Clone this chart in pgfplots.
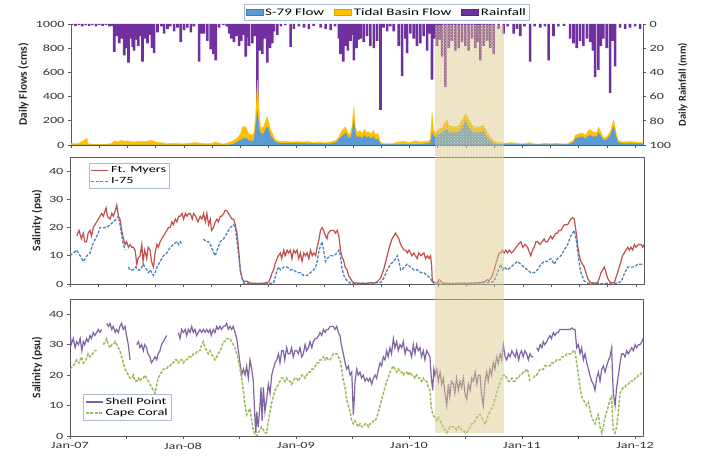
\documentclass[border=0pt]{standalone}
\usepackage{fontspec}
\setmainfont{Carlito}[FakeStretch=1.5]
\newfontfamily\labfont{Carlito}
\usepackage{pgfplots}
\pgfplotsset{compat=1.18}
\usetikzlibrary{patterns}
\definecolor{sflow}{HTML}{5B9BD5}
\definecolor{tflow}{HTML}{FFC000}
\definecolor{rain}{HTML}{7030A0}
\definecolor{ftm}{HTML}{C0504D}
\definecolor{ise}{HTML}{4F81BD}
\definecolor{shp}{HTML}{8064A2}
\definecolor{cco}{HTML}{9BBB59}
\definecolor{legbord}{RGB}{170,185,210}
\definecolor{bandtan}{RGB}{214,192,120}
\begin{document}
\begin{tikzpicture}
\useasboundingbox (0,0) rectangle (702pt,462pt);
\pgfplotsset{
  base/.style={scale only axis, xmin=0, xmax=5.07,
    font=\fontsize{9.5}{11}\selectfont,
    /pgf/number format/assume math mode=true,
    /pgf/number format/1000 sep={},
    tick align=outside, major tick length=3pt,
    axis line style={black!65, line width=0.7pt},
    tick style={black!65, line width=0.6pt},
    ticklabel style={text=black!80},
    unbounded coords=jump},
  ylab/.style={ylabel style={font=\labfont\bfseries\fontsize{11.5}{13}\selectfont, text=black!85}},
}
% ---------- Top panel: rainfall (right axis, reversed) ----------
\begin{axis}[base, at={(71pt,317pt)}, anchor=south west, width=572pt, height=121pt,
  ymin=0, ymax=100, y dir=reverse, axis y line*=right, axis x line=none,
  ytick={0,20,...,100},
  ylabel={Daily Rainfall (mm)},
  ylabel style={font=\labfont\bfseries\fontsize{10.5}{12}\selectfont, text=black!85},
  ybar, bar width=2.6pt]
\addplot[fill=rain, draw=none] coordinates {
(0.01,1)(0.04,1.5)(0.07,1)(0.10,2)(0.13,1)(0.16,1.5)(0.19,1)(0.22,2)(0.25,1)(0.28,1.5)(0.31,1)(0.34,2)(0.36,1.5)
(0.383,23)(0.407,10)(0.428,16)(0.448,12)(0.472,26)(0.493,20)(0.510,32)(0.531,12)(0.546,19)(0.560,22)(0.575,13)
(0.596,18)(0.614,10)(0.634,31)(0.655,12)(0.678,16)(0.699,9)(0.717,20)(0.737,24)(0.767,7)(0.80,2)(0.826,8)(0.855,4)
(0.88,2)(0.914,6)(0.944,3)(0.973,15)(1.003,5)(1.032,3)(1.062,7)(1.09,2)(1.135,31)(1.159,8)(1.180,8)(1.209,14)
(1.239,21)(1.262,25)(1.283,30)(1.313,3)(1.35,1)(1.38,2)(1.401,8)(1.422,12)(1.445,15)(1.469,10)(1.490,18)(1.510,14)
(1.530,9)(1.549,27)(1.565,11)(1.578,18)(1.608,16)(1.628,10)(1.652,71)(1.676,22)(1.696,25)(1.720,12)(1.740,32)
(1.764,20)(1.785,16)(1.80,6)(1.829,9)(1.86,2)(1.90,1)(1.947,19)(1.976,4)(2.02,2)(2.065,3)(2.109,4)(2.15,1.5)(2.212,3)
(2.257,4)(2.301,5)(2.34,2)(2.375,12)(2.389,25)(2.413,31)(2.434,18)(2.454,22)(2.478,14)(2.494,9)(2.507,30)(2.531,20)
(2.552,13)(2.566,12)(2.595,15)(2.625,10)(2.654,18)(2.684,20)(2.713,14)(2.743,71)(2.77,3)(2.802,6)(2.83,2)(2.861,6)
(2.905,18)(2.935,43)(2.964,12)(2.979,24)(3.008,8)(3.038,12)(3.067,18)(3.097,16)(3.126,10)(3.156,22)(3.178,8)(3.200,46)
(3.224,12)(3.244,18)(3.268,13)(3.289,27)(3.318,52)(3.348,20)(3.377,14)(3.407,22)(3.436,20)(3.466,15)(3.495,18)
(3.525,22)(3.554,12)(3.584,20)(3.604,15)(3.628,30)(3.657,18)(3.687,14)(3.716,20)(3.746,25)(3.790,4)(3.834,8)
(3.87,2)(3.923,8)(3.952,4)(3.982,10)(4.02,2)(4.070,31)(4.11,2)(4.159,3)(4.20,2)(4.233,30)(4.277,10)(4.32,2)(4.37,1.5)
(4.424,12)(4.454,16)(4.483,20)(4.513,14)(4.542,18)(4.572,12)(4.601,15)(4.625,22)(4.646,44)(4.675,38)(4.696,18)
(4.719,12)(4.749,20)(4.778,57)(4.800,14)(4.823,35)(4.867,3)(4.911,4)(4.955,3)(5.00,2)(5.044,4)
};
\end{axis}
% ---------- Top panel: flows (left axis) ----------
\begin{axis}[base, ylab, at={(71pt,317pt)}, anchor=south west, width=572pt, height=121pt,
  ymin=0, ymax=1000, axis y line*=left, axis x line*=bottom,
  xtick={0,0.25,...,5}, xticklabels={}, ytick={0,200,...,1000},
  ylabel={Daily Flows (cms)},
  legend columns=3,
  legend style={at={(0.552,1.03)}, anchor=south, draw=legbord, line width=0.6pt,
    font=\fontsize{10}{11}\selectfont, inner sep=1.5pt,
    /tikz/every even column/.append style={column sep=8pt}}]
\addlegendimage{area legend, fill=sflow, draw=sflow!80!black}
\addlegendentry{S-79 Flow}
\addlegendimage{area legend, fill=tflow, draw=tflow!85!black}
\addlegendentry{Tidal Basin Flow}
\addlegendimage{area legend, fill=rain, draw=rain!80!black}
\addlegendentry{Rainfall}
\addplot[fill=tflow, draw=tflow, line width=0.3pt, forget plot] coordinates {
(0.00,15)(0.02,10)(0.04,12)(0.06,10)(0.09,25)(0.142,55)(0.15,10)(0.18,8)(0.2,5)(0.25,5)(0.3,8)(0.35,10)(0.39,35)
(0.41,25)(0.45,40)(0.47,30)(0.50,35)(0.55,25)(0.60,30)(0.65,30)(0.70,35)(0.72,40)(0.75,25)(0.80,20)(0.85,10)(0.90,15)
(1.0,10)(1.05,15)(1.1,20)(1.15,15)(1.2,10)(1.25,15)(1.28,25)(1.30,20)(1.35,8)(1.40,20)(1.445,40)(1.48,60)(1.50,90)
(1.52,150)(1.55,150)(1.57,100)(1.60,80)(1.622,100)(1.637,250)(1.652,537)(1.66,400)(1.67,250)(1.681,150)(1.70,140)
(1.711,160)(1.725,200)(1.740,235)(1.755,180)(1.770,120)(1.785,100)(1.80,60)(1.82,40)(1.85,30)(1.90,30)(1.95,25)
(2.0,30)(2.05,25)(2.10,30)(2.15,20)(2.20,25)(2.25,20)(2.30,25)(2.35,40)(2.37,60)(2.40,120)(2.434,150)(2.45,110)
(2.47,80)(2.49,150)(2.507,317)(2.52,150)(2.54,100)(2.56,120)(2.58,90)(2.60,130)(2.62,100)(2.64,110)(2.66,90)(2.68,120)
(2.70,80)(2.72,100)(2.74,30)(2.76,15)(2.80,10)(2.85,12)(2.90,25)(2.95,30)(3.0,20)(3.05,35)(3.10,25)(3.15,30)(3.185,40)
(3.20,275)(3.215,120)(3.23,100)(3.26,130)(3.29,140)(3.31,180)(3.333,206)(3.35,160)(3.38,150)(3.41,150)(3.44,160)
(3.46,200)(3.50,260)(3.52,220)(3.55,170)(3.58,140)(3.60,150)(3.63,150)(3.657,165)(3.68,120)(3.70,90)(3.72,60)(3.75,30)
(3.8,20)(3.85,15)(3.9,20)(3.95,15)(4.0,10)(4.07,20)(4.1,10)(4.15,8)(4.2,15)(4.25,10)(4.30,15)(4.35,10)(4.40,10)
(4.454,40)(4.47,80)(4.50,90)(4.53,100)(4.56,80)(4.58,110)(4.60,130)(4.62,110)(4.66,100)(4.675,150)(4.69,120)(4.72,60)
(4.75,70)(4.78,110)(4.80,170)(4.808,206)(4.82,160)(4.837,80)(4.85,40)(4.87,30)(4.9,25)(4.95,30)(5.0,25)(5.07,20)
} \closedcycle;
\addplot[fill=sflow, draw=sflow, line width=0.3pt, forget plot] coordinates {
(0.00,0)(1.40,0)(1.445,10)(1.48,30)(1.52,50)(1.55,60)(1.57,40)(1.60,30)(1.622,40)(1.637,150)(1.652,290)(1.66,200)
(1.67,120)(1.681,100)(1.70,90)(1.711,100)(1.725,130)(1.740,150)(1.755,120)(1.770,70)(1.785,60)(1.80,35)(1.82,20)
(1.85,15)(1.9,15)(2.0,15)(2.1,12)(2.2,10)(2.3,10)(2.35,20)(2.40,70)(2.434,100)(2.45,70)(2.47,50)(2.49,90)(2.507,200)
(2.52,90)(2.54,60)(2.56,70)(2.58,55)(2.60,80)(2.62,60)(2.64,70)(2.66,50)(2.68,70)(2.70,40)(2.72,50)(2.74,10)(2.76,5)
(2.8,3)(2.9,5)(3.0,5)(3.1,5)(3.185,15)(3.20,100)(3.215,70)(3.23,70)(3.26,90)(3.29,100)(3.31,120)(3.333,130)(3.35,100)
(3.38,100)(3.41,100)(3.44,110)(3.46,130)(3.50,200)(3.52,150)(3.55,110)(3.58,100)(3.60,100)(3.63,100)(3.657,110)
(3.68,70)(3.70,50)(3.72,30)(3.75,10)(3.8,5)(4.4,3)(4.454,20)(4.47,50)(4.50,60)(4.53,70)(4.56,50)(4.58,70)(4.60,80)
(4.62,70)(4.66,70)(4.675,100)(4.69,80)(4.72,40)(4.75,45)(4.78,80)(4.80,130)(4.808,150)(4.82,110)(4.837,50)(4.85,20)
(4.87,15)(4.9,12)(5.07,10)
} \closedcycle;
\coordinate (bandTR) at (axis cs:3.84,995);
\end{axis}
% ---------- Middle panel ----------
\begin{axis}[base, ylab, at={(70pt,178pt)}, anchor=south west, width=574pt, height=127pt,
  ymin=0, ymax=45, ytick={0,10,...,40}, xtick={0,0.25,...,5}, xticklabels={},
  xtick pos=bottom, ytick pos=left,
  ylabel={Salinity (psu)},
  legend cell align=left,
  legend style={at={(0.033,0.953)}, anchor=north west, draw=legbord, line width=0.6pt,
    font=\fontsize{9.5}{11}\selectfont, inner sep=1.5pt, row sep=-1pt}]
\addplot[ftm, line width=1.2pt] coordinates {
(0.06,17)(0.08,19)(0.10,16)(0.118,18)(0.13,15)(0.147,15)(0.16,18)(0.177,19)(0.19,17)(0.206,20)(0.22,21)(0.236,22)
(0.25,23)(0.265,24)(0.28,25)(0.295,24)(0.31,26)(0.319,27)(0.33,24)(0.354,23)(0.37,25)(0.383,24)(0.40,26)(0.413,28)
(0.428,24)(0.442,23)(0.457,19)(0.472,16)(0.487,14)(0.50,15)(0.516,13)(0.531,14)(0.546,13)(0.56,13)(0.575,12)(0.59,7)
(0.60,9)(0.619,10)(0.634,14)(0.645,8)(0.66,12)(0.678,9)(0.69,13)(0.708,12)(0.72,8)(0.737,6)(0.752,11)(0.767,14)
(0.78,13)(0.796,15)(0.81,16)(0.826,17)(0.84,18)(0.855,19)(0.87,20)(0.885,20)(0.90,22)(0.914,21)(0.93,23)(0.944,22)
(0.96,24)(0.973,24)(0.99,25)(1.003,23)(1.02,25)(1.032,24)(1.05,25)(1.062,25)(1.08,23)(1.091,25)(1.11,24)(1.13,22)
(1.15,24)(1.165,23)(1.18,25)(1.195,22)(1.209,25)(1.224,21)(1.239,23)(1.25,19)(1.268,20)(1.283,22)(1.298,23)(1.31,22)
(1.327,24)(1.34,24)(1.357,25)(1.37,26)(1.386,26)(1.40,25)(1.416,24)(1.43,23)(1.445,23)(1.46,21)(1.475,18)(1.49,12)
(1.504,5)(1.52,2)(1.534,1)(1.55,1)(1.563,1)(1.58,0.5)(1.60,0.3)(1.622,0.2)(1.64,0.3)(1.652,0.2)(1.67,0.2)(1.681,0.3)
(1.70,0.2)(1.711,0.3)(1.74,0.5)(1.755,0.8)(1.77,2)(1.785,4)(1.799,5)(1.81,7)(1.829,9)(1.84,10)(1.858,11)(1.87,9)
(1.888,12)(1.90,10)(1.917,12)(1.93,11)(1.947,12)(1.96,9)(1.976,12)(1.99,11)(2.006,12)(2.02,9)(2.035,11)(2.05,8)
(2.065,11)(2.08,10)(2.094,11)(2.11,9)(2.124,12)(2.14,10)(2.153,11)(2.17,10)(2.183,13)(2.20,16)(2.212,19)(2.227,20)
(2.24,19)(2.257,17)(2.27,16)(2.28,18)(2.301,19)(2.315,19)(2.33,19)(2.345,18)(2.36,19)(2.375,17)(2.389,12)(2.40,10)
(2.419,8)(2.43,6)(2.448,5)(2.46,3)(2.478,2)(2.49,1)(2.507,0.5)(2.537,0.3)(2.56,0.2)(2.59,0.3)(2.62,0.2)(2.654,0.5)
(2.68,0.3)(2.713,0.8)(2.743,2)(2.77,5)(2.802,10)(2.82,13)(2.845,16)(2.861,17)(2.875,18)(2.89,17)(2.905,16)(2.92,14)
(2.935,13)(2.95,12)(2.965,12)(2.979,11)(2.995,12)(3.008,11)(3.02,10)(3.038,11)(3.05,10)(3.067,9)(3.08,11)(3.10,10)
(3.126,11)(3.14,9)(3.156,10)(3.171,9)(3.185,10)(3.195,6)(3.200,1)(3.22,0.5)(3.244,0.3)(3.26,1.5)(3.274,1)(3.29,0.3)
(3.33,0.2)(3.39,0.2)(3.45,0.3)(3.51,0.2)(3.57,0.3)(3.63,0.5)(3.66,0.8)(3.687,1.5)(3.70,1)(3.716,2)(3.73,3)(3.746,5)
(3.76,7)(3.775,9)(3.79,11)(3.805,11)(3.82,12)(3.834,11)(3.85,12)(3.864,11)(3.88,12)(3.90,11)(3.923,12)(3.94,13)
(3.96,14)(3.982,15)(4.00,13)(4.02,14)(4.041,13)(4.06,11)(4.07,10)(4.085,12)(4.10,13)(4.115,15)(4.129,15)(4.15,14)
(4.17,15)(4.188,16)(4.20,15)(4.218,15)(4.23,16)(4.247,17)(4.26,16)(4.277,17)(4.29,18)(4.306,18)(4.32,19)(4.336,19)
(4.35,20)(4.365,21)(4.38,21)(4.395,21)(4.41,22)(4.424,23)(4.44,23.5)(4.454,23)(4.465,20)(4.475,17)(4.483,14)
(4.498,10)(4.513,8)(4.527,7)(4.542,6)(4.557,4)(4.572,2)(4.587,1)(4.60,0.5)(4.631,0.3)(4.66,0.5)(4.675,2)(4.69,4)
(4.705,5)(4.719,6)(4.735,4)(4.749,2)(4.765,1)(4.778,0.5)(4.808,0.5)(4.82,2)(4.837,4)(4.852,6)(4.867,8)(4.88,10)
(4.896,11)(4.911,12)(4.926,13)(4.94,12)(4.955,13)(4.97,12)(4.985,14)(5.00,13)(5.02,14)(5.044,14)(5.06,13)(5.07,14)
};
\addlegendentry{Ft. Myers}
\addplot[ise, line width=1.3pt, dash pattern=on 3pt off 1.5pt] coordinates {
(0.00,10)(0.03,11)(0.059,12)(0.09,10)(0.118,8)(0.15,10)(0.177,11)(0.2,14)(0.236,17)(0.25,18)(0.265,20)(0.29,20)
(0.324,20)(0.354,21)(0.383,22)(0.41,23)(0.428,24)(0.442,21)(0.457,17)(0.472,14)(0.487,12)(0.50,nan)
(0.516,6)(0.531,5)(0.55,5)(0.56,5)(0.58,6)(0.60,5)(0.619,5)(0.634,6)(0.649,7)(0.66,6)(0.678,5)(0.693,4)(0.708,5)
(0.723,4)(0.737,3)(0.752,4)(0.767,6)(0.796,8)(0.826,10)(0.855,11)(0.885,13)(0.914,14)(0.944,15)(0.96,14)(0.973,15)
(0.988,14)(1.05,nan)
(1.180,16)(1.20,15)(1.224,15)(1.239,14)(1.26,12)(1.283,10)(1.30,12)(1.327,15)(1.357,16)(1.386,18)(1.416,20)
(1.445,21)(1.46,20)(1.475,15)(1.49,10)(1.504,5)(1.52,2)(1.534,0.3)(1.6,0.2)(1.7,0.2)(1.799,0.3)(1.81,2)(1.829,5)
(1.845,6)(1.858,5)(1.888,6)(1.917,6)(1.947,5)(1.976,5)(2.006,4)(2.035,4)(2.065,3)(2.094,3)(2.124,4)(2.153,5)(2.17,6)
(2.183,8)(2.2,12)(2.227,15)(2.24,12)(2.257,8)(2.27,9)(2.30,10)(2.33,10)(2.36,11)(2.375,12)(2.389,10)(2.40,6)(2.419,3)
(2.448,1)(2.478,0.3)(2.6,0.2)(2.743,0.5)(2.77,2)(2.802,5)(2.83,7)(2.861,8)(2.89,10)(2.905,8)(2.92,5)(2.935,5)(2.95,6)
(2.979,7)(3.008,6)(3.038,5)(3.067,5)(3.10,4)(3.126,4)(3.156,3)(3.185,2)(3.20,0.5)(3.3,0.2)(3.5,0.2)(3.716,0.5)
(3.746,1)(3.775,4)(3.805,7)(3.82,5)(3.834,6)(3.864,5)(3.894,6)(3.923,7)(3.952,8)(3.982,7)(4.01,6)(4.041,5)(4.07,4)
(4.100,4)(4.129,5)(4.16,7)(4.188,8)(4.218,8)(4.247,9)(4.277,7)(4.306,9)(4.336,10)(4.365,12)(4.395,14)(4.424,17)
(4.454,19)(4.47,16)(4.483,12)(4.50,7)(4.513,4)(4.542,1)(4.572,0.3)(4.7,0.2)(4.837,0.3)(4.87,1)(4.90,4)(4.926,6)
(4.955,6)(4.985,6)(5.014,7)(5.044,7)(5.07,7)
};
\addlegendentry{I-75}
\end{axis}
% ---------- Bottom panel ----------
\begin{axis}[base, ylab, at={(70pt,26pt)}, anchor=south west, width=573pt, height=137pt,
  ymin=0, ymax=45, ytick={0,10,...,40}, xtick={0,0.5,...,5},
  xticklabels={Jan-07,,Jan-08,,Jan-09,,Jan-10,,Jan-11,,Jan-12},
  xtick pos=bottom, ytick pos=left,
  ylabel={Salinity (psu)},
  legend cell align=left,
  legend style={at={(0.023,0.11)}, anchor=south west, draw=legbord, line width=0.6pt,
    font=\fontsize{9.5}{11}\selectfont, inner sep=1.5pt, row sep=-1pt}]
\addplot[shp, line width=1.2pt] coordinates {
(0.00,35)(0.01,30)(0.03,32)(0.045,29)(0.059,31)(0.075,30)(0.09,32)(0.105,28)(0.118,31)(0.13,30)(0.147,32)(0.16,31)
(0.177,33)(0.19,32)(0.206,34)(0.22,33)(0.236,34)(0.25,35)(0.265,34)(0.28,35)(0.30,nan)
(0.324,37)(0.34,36)(0.354,37)(0.37,35)(0.383,36)(0.40,34)(0.413,35)(0.428,34)(0.442,36)(0.457,37)(0.47,35)(0.487,36)
(0.50,33)(0.516,30)(0.531,25)(0.56,nan)
(0.590,30)(0.605,31)(0.619,29)(0.634,30)(0.649,28)(0.66,30)(0.678,29)(0.69,27)(0.708,26)(0.72,24)(0.737,25)(0.752,26)
(0.767,25)(0.78,27)(0.796,28)(0.81,30)(0.826,31)(0.84,32)(0.855,33)(0.90,nan)
(0.96,34)(0.973,32)(0.988,35)(1.003,34)(1.02,35)(1.032,33)(1.047,35)(1.062,34)(1.077,36)(1.091,34)(1.106,35)(1.12,33)
(1.135,34)(1.15,35)(1.165,34)(1.18,35)(1.195,34)(1.209,35)(1.224,34)(1.239,35)(1.25,33)(1.268,35)(1.283,34)(1.298,36)
(1.31,35)(1.327,36)(1.34,35)(1.357,36)(1.37,36)(1.386,37)(1.40,35)(1.416,36)(1.43,35)(1.445,36)(1.46,34)(1.475,32)
(1.49,28)(1.504,24)(1.519,20)(1.534,22)(1.549,20)(1.563,23)(1.578,19)(1.593,25)(1.608,22)(1.622,18)(1.637,5)(1.645,1)
(1.652,8)(1.665,3)(1.681,10)(1.69,16)(1.70,5)(1.711,16)(1.725,8)(1.74,12)(1.755,17)(1.77,14)(1.785,20)(1.799,22)
(1.814,24)(1.829,25)(1.845,27)(1.858,24)(1.873,28)(1.888,28)(1.90,25)(1.917,29)(1.93,27)(1.947,27)(1.96,29)(1.976,26)
(1.99,28)(2.006,28)(2.02,27)(2.035,29)(2.05,26)(2.065,27)(2.08,30)(2.094,28)(2.11,29)(2.124,31)(2.14,29)(2.153,31)
(2.17,32)(2.183,32)(2.20,33)(2.212,34)(2.227,33)(2.242,35)(2.257,34)(2.27,35)(2.285,35)(2.301,36)(2.315,36)(2.33,36)
(2.345,35)(2.36,36)(2.375,34)(2.389,33)(2.40,30)(2.419,27)(2.434,24)(2.448,22)(2.463,23)(2.478,20)(2.493,21)(2.507,7)
(2.515,12)(2.522,18)(2.537,22)(2.55,20)(2.566,21)(2.58,19)(2.595,20)(2.61,18)(2.625,19)(2.64,18)(2.654,19)(2.67,17)
(2.685,19)(2.70,20)(2.713,19)(2.73,22)(2.743,24)(2.757,23)(2.772,26)(2.787,25)(2.802,28)(2.815,26)(2.831,29)(2.845,27)
(2.861,32)(2.875,29)(2.890,31)(2.905,28)(2.92,30)(2.935,29)(2.949,31)(2.965,27)(2.979,29)(2.993,28)(3.008,28)(3.023,26)
(3.038,30)(3.052,27)(3.067,30)(3.082,28)(3.097,29)(3.11,26)(3.126,28)(3.14,25)(3.156,28)(3.171,27)(3.185,26)(3.195,20)
(3.209,15)(3.22,22)(3.23,20)(3.244,22)(3.26,18)(3.274,21)(3.289,17)(3.303,19)(3.318,14)(3.333,10)(3.348,17)(3.36,13)
(3.375,18)(3.392,17)(3.405,14)(3.42,19)(3.436,15)(3.451,18)(3.465,16)(3.48,19)(3.495,14)(3.510,12)(3.525,17)(3.54,15)
(3.555,19)(3.569,18)(3.585,21)(3.60,17)(3.614,20)(3.628,20)(3.643,13)(3.657,10)(3.672,18)(3.687,21)(3.70,18)(3.716,22)
(3.73,20)(3.746,24)(3.76,22)(3.775,26)(3.79,24)(3.805,27)(3.82,25)(3.834,30)(3.85,26)(3.864,25)(3.88,27)(3.894,26)
(3.91,28)(3.923,27)(3.94,26)(3.952,28)(3.97,25)(3.982,27)(3.995,28)(4.01,26)(4.025,28)(4.041,27)(4.055,25)(4.070,27)
(4.085,26)(4.10,26)(4.115,nan)
(4.129,29)(4.144,28)(4.16,30)(4.175,29)(4.188,31)(4.2,30)(4.218,31)(4.23,32)(4.247,33)(4.26,32)(4.277,34)(4.29,33)
(4.306,34)(4.32,34)(4.336,35)(4.35,35)(4.365,35)(4.38,35)(4.395,35)(4.41,35)(4.424,35)(4.44,35.5)(4.454,35)(4.469,35)
(4.483,29)(4.498,30)(4.513,27)(4.527,29)(4.542,25)(4.557,27)(4.572,24)(4.587,22)(4.60,20)(4.616,18)(4.631,17)(4.645,15)
(4.660,19)(4.675,21)(4.690,18)(4.705,22)(4.719,23)(4.734,21)(4.749,23)(4.765,25)(4.778,26)(4.793,29)(4.800,20)
(4.808,14)(4.823,10)(4.837,16)(4.852,20)(4.867,24)(4.881,27)(4.896,27)(4.911,26)(4.926,28)(4.94,27)(4.955,28)(4.97,29)
(4.985,28)(5.00,30)(5.014,29)(5.03,30)(5.044,30)(5.06,31)(5.07,32)
};
\addlegendentry{Shell Point}
\addplot[cco, line width=1.5pt, dash pattern=on 3pt off 1.5pt] coordinates {
(0.00,22)(0.03,23)(0.059,25)(0.08,24)(0.10,26)(0.118,24)(0.14,25)(0.16,27)(0.177,26)(0.2,27)(0.22,28)(0.236,28)
(0.26,nan)
(0.295,30)(0.31,31)(0.324,32)(0.34,30)(0.354,29)(0.37,30)(0.383,30)(0.40,31)(0.413,30)(0.428,29)(0.442,28)(0.457,26)
(0.472,24)(0.487,22)(0.501,21)(0.516,20)(0.531,19)(0.546,19)(0.56,20)(0.575,18)(0.59,18)(0.605,19)(0.619,18)(0.634,19)
(0.649,19)(0.66,20)(0.678,19)(0.693,18)(0.708,17)(0.723,16)(0.737,15)(0.752,14)(0.767,17)(0.78,19)(0.796,20)(0.81,21)
(0.826,22)(0.84,22)(0.855,22)(0.87,23)(0.885,23)(0.90,24)(0.914,24)(0.93,25)(0.944,25)(0.96,24)(0.973,25)(0.99,25)
(1.003,24)(1.02,25)(1.032,25)(1.05,26)(1.062,26)(1.08,26)(1.091,27)(1.11,27)(1.13,28)(1.150,28)(1.165,30)(1.180,31)
(1.195,29)(1.209,28)(1.224,27)(1.239,28)(1.25,27)(1.268,26)(1.283,25)(1.298,26)(1.31,27)(1.327,28)(1.34,29)(1.357,31)
(1.37,31)(1.386,32)(1.40,32)(1.416,32)(1.43,31)(1.445,30)(1.46,29)(1.475,27)(1.49,25)(1.504,22)(1.519,19)(1.534,15)
(1.549,10)(1.563,7)(1.578,8)(1.593,9)(1.608,5)(1.622,2)(1.637,0.5)(1.652,0)(1.667,1)(1.681,2)(1.696,3)(1.711,2)
(1.725,1)(1.740,1)(1.755,5)(1.770,8)(1.785,11)(1.799,13)(1.814,15)(1.829,16)(1.845,17)(1.858,18)(1.873,19)(1.888,19)
(1.90,18)(1.917,19)(1.93,18)(1.947,18)(1.96,17)(1.976,18)(1.99,19)(2.006,19)(2.02,18)(2.035,19)(2.05,20)(2.065,20)
(2.08,19)(2.094,20)(2.11,21)(2.124,21)(2.14,22)(2.153,22)(2.17,23)(2.183,24)(2.20,24)(2.212,25)(2.227,25)(2.242,26)
(2.257,25)(2.271,26)(2.285,25)(2.301,25)(2.315,26)(2.33,27)(2.345,27)(2.36,27)(2.375,26)(2.389,25)(2.404,22)(2.419,18)
(2.434,16)(2.448,12)(2.463,10)(2.478,8)(2.493,5)(2.507,4)(2.52,5)(2.537,4)(2.55,3)(2.566,4)(2.58,3)(2.595,3)(2.61,4)
(2.625,4)(2.64,3)(2.654,4)(2.67,4)(2.685,5)(2.70,5)(2.713,6)(2.73,8)(2.743,10)(2.757,12)(2.772,14)(2.787,16)(2.802,18)
(2.815,19)(2.831,21)(2.845,22)(2.861,23)(2.875,22)(2.89,21)(2.905,22)(2.92,21)(2.935,21)(2.949,20)(2.965,21)(2.979,21)
(2.993,20)(3.008,21)(3.023,20)(3.038,20)(3.052,19)(3.067,20)(3.082,19)(3.097,19)(3.11,18)(3.126,19)(3.14,18)(3.156,18)
(3.171,16)(3.185,15)(3.195,10)(3.21,7)(3.23,6)(3.244,5)(3.26,6)(3.274,5)(3.289,4)(3.303,3)(3.318,2)(3.333,1)(3.348,2)
(3.36,3)(3.375,3)(3.392,3)(3.405,3)(3.42,2)(3.436,3)(3.451,3)(3.465,2)(3.48,2)(3.495,1)(3.510,1)(3.525,2)(3.54,3)
(3.555,4)(3.569,4)(3.585,5)(3.60,6)(3.614,7)(3.628,7)(3.643,6)(3.657,5)(3.672,4)(3.687,5)(3.70,7)(3.716,8)(3.73,9)
(3.746,10)(3.76,12)(3.775,14)(3.79,16)(3.805,18)(3.82,19)(3.834,20)(3.85,20)(3.864,19)(3.88,18)(3.894,18)(3.91,19)
(3.923,18)(3.94,18)(3.952,19)(3.97,19)(3.982,20)(3.995,20)(4.01,21)(4.025,21)(4.041,22)(4.055,21)(4.070,18)(4.085,nan)
(4.100,19)(4.115,20)(4.129,20)(4.144,21)(4.16,22)(4.175,22)(4.188,22)(4.20,23)(4.218,23)(4.23,23)(4.247,23)(4.26,24)
(4.277,24)(4.29,24)(4.306,25)(4.32,25)(4.336,25)(4.35,26)(4.365,26)(4.38,26)(4.395,27)(4.41,27)(4.424,27)(4.44,27)
(4.454,28)(4.469,28)(4.483,24)(4.498,20)(4.513,16)(4.527,13)(4.542,12)(4.557,11)(4.572,10)(4.587,11)(4.60,9)(4.616,6)
(4.631,5)(4.645,4)(4.660,6)(4.675,7)(4.690,3)(4.705,1)(4.719,3)(4.734,6)(4.749,8)(4.765,10)(4.778,12)(4.793,13)
(4.800,6)(4.808,2)(4.823,1)(4.837,3)(4.852,8)(4.867,14)(4.881,15)(4.896,16)(4.911,16)(4.926,17)(4.94,17)(4.955,18)
(4.97,18)(4.985,18)(5.00,19)(5.014,19)(5.03,20)(5.044,20)(5.06,21)(5.07,21)
};
\addlegendentry{Cape Coral}
\coordinate (bandBL) at (axis cs:3.23,1);
\end{axis}
% ---------- highlighted period ----------
\fill[bandtan, opacity=0.45] (bandBL) rectangle (bandTR);
\fill[pattern=crosshatch dots, pattern color=white, opacity=0.5] (bandBL) rectangle (bandTR);
\end{tikzpicture}
\end{document}
